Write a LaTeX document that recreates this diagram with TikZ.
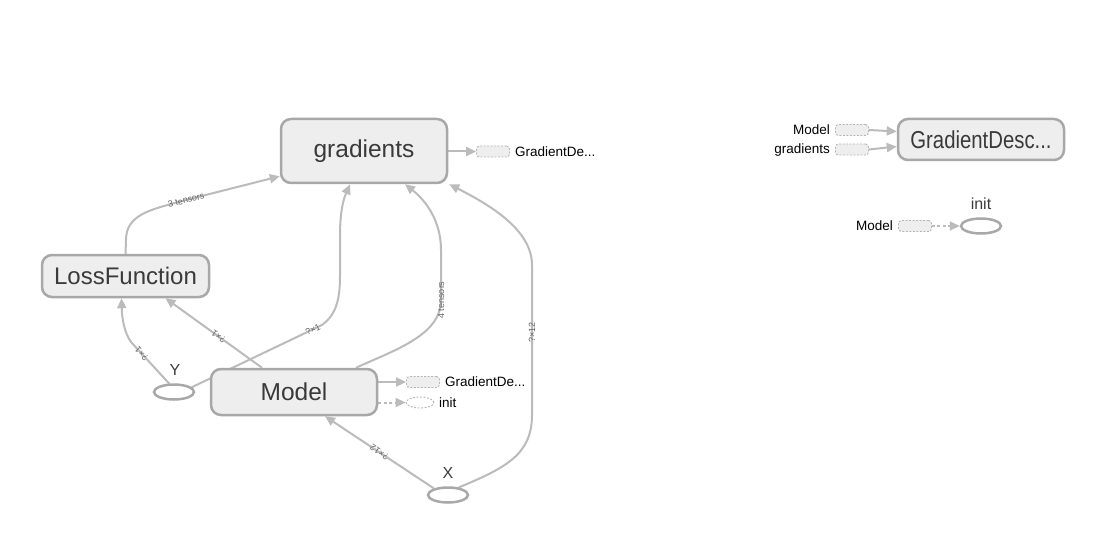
\documentclass[tikz,border=0pt]{standalone}
\usepackage{fontspec}
\setmainfont{Liberation Sans}
\usetikzlibrary{arrows.meta,shapes.geometric}
\definecolor{nodefill}{HTML}{EEEEEE}
\definecolor{nodeborder}{HTML}{A8A8A8}
\definecolor{edgecol}{HTML}{BBBBBB}
\definecolor{ghostcol}{HTML}{B5B5B5}
\definecolor{txt}{HTML}{3A3A3A}
\definecolor{labcol}{HTML}{666666}
\pgfdeclarelayer{background}
\pgfsetlayers{background,main}
\tikzset{
  op/.style={draw=nodeborder, fill=nodefill, line width=2.5pt, rounded corners=10pt,
    text=txt, font=\fontsize{24.5}{28}\selectfont, inner sep=0pt},
  ell/.style={ellipse, draw=nodeborder, line width=2.5pt, minimum width=40pt,
    minimum height=15pt, inner sep=0pt},
  ghost/.style={draw=ghostcol, fill=nodefill, rounded corners=3pt, line width=0.9pt,
    dash pattern=on 2pt off 1.5pt, minimum width=33pt, minimum height=11pt, inner sep=0pt},
  ghostell/.style={ellipse, draw=ghostcol, line width=0.9pt, dash pattern=on 2pt off 1.5pt,
    minimum width=28pt, minimum height=11pt, inner sep=0pt},
  small/.style={font=\fontsize{13.5}{15}\selectfont, text=black, inner sep=0pt},
  namelab/.style={font=\fontsize{16}{18}\selectfont, text=txt, inner sep=0pt},
  edge/.style={draw=edgecol, line width=2pt, -{Triangle[length=10pt,width=9pt]}},
  dotedge/.style={draw=edgecol, line width=2pt, dash pattern=on 3pt off 2.5pt,
    -{Triangle[length=10pt,width=9pt]}},
  elab/.style={font=\fontsize{9}{10}\selectfont, text=labcol, sloped, allow upside down, inner sep=0.5pt}
}
\begin{document}
\begin{tikzpicture}[x=1pt,y=-1pt]
\useasboundingbox (0,0) rectangle (1107,537);
% main nodes
\node[op, minimum width=166pt, minimum height=64pt] (grad) at (364,151) {gradients};
\node[op, minimum width=167pt, minimum height=42pt, font=\fontsize{24}{28}\selectfont] (loss) at (125.5,276) {LossFunction};
\node[op, minimum width=166pt, minimum height=46pt] (model) at (294,392) {Model};
\node[op, minimum width=166pt, minimum height=41pt] (gd) at (981,139.5) {\scalebox{0.83}[1]{GradientDesc...}};
\node[ell] (Y) at (174,392) {};
\node[ell] (X) at (448,495) {};
\node[ell] (init) at (981,226) {};
\node[namelab] (ylab) at (175,370) {Y};
\node[namelab] (xlab) at (448,473) {X};
\node[namelab] (initlab) at (981,204) {init};
% ghost nodes
\node[ghost] (g1) at (493,151.5) {};
\node[small, anchor=west] (g1l) at (515,151.5) {GradientDe...};
\node[ghost] (g2) at (423,382) {};
\node[small, anchor=west] (g2l) at (445,382) {GradientDe...};
\node[ghostell] (g3) at (420,402.5) {};
\node[small, anchor=west] (g3l) at (439,402.5) {init};
\node[ghost] (g4) at (852,130) {};
\node[small, anchor=east] (g4l) at (830,130) {Model};
\node[ghost] (g5) at (852,149.5) {};
\node[small, anchor=east] (g5l) at (830,150) {gradients};
\node[ghost] (g6) at (915,226) {};
\node[small, anchor=east] (g6l) at (893,226) {Model};
\begin{pgfonlayer}{background}
% LossFunction -> gradients
\draw[edge] (loss.north) -- (126,240) .. controls (126,215) and (150,210) .. (178,202)
  -- node[elab, pos=0.08] {3 tensors} ([yshift=8pt]grad.south west);
% Y -> LossFunction
\draw[edge] (Y.120) -- node[elab, pos=0.72] {?×1} (131,342)
  .. controls (124,332) and (122,318) .. ([xshift=-4pt]loss.south);
% Model -> LossFunction
\draw[edge] ([xshift=-32pt]model.north) -- node[elab, pos=0.45] {?×1} ([xshift=40pt]loss.south);
% Y -> gradients
\draw[edge] (Y.15) -- node[elab, pos=0.93] {?×1} (322,325)
  .. controls (337,314) and (340,298) .. (340,275) -- (340,235)
  .. controls (340,210) and (344,198) .. ([xshift=-14pt]grad.south);
% Model -> gradients
\draw[edge] ([xshift=62pt]model.north) .. controls (395,350) and (441,335) .. (441,300)
  -- node[elab, pos=0.0] {4 tensors} (441,250)
  .. controls (441,220) and (425,200) .. ([xshift=41pt]grad.south);
% X -> gradients
\draw[edge] (X.35) .. controls (505,468) and (532,455) .. (532,415)
  -- node[elab, pos=0.55] {?×12} (532,265)
  .. controls (532,230) and (490,205) .. ([xshift=1pt]grad.south east);
% X -> Model
\draw[edge] (X.155) -- node[elab, pos=0.5] {?×12} ([xshift=31pt]model.south);
% short edges
\draw[edge] (grad.east |- g1) -- (g1.west);
\draw[edge] (model.east |- g2) -- (g2.west);
\draw[dotedge] (model.east |- g3) -- (g3.west);
\draw[edge] (g4.east) -- ([yshift=8pt]gd.west);
\draw[edge] (g5.east) -- ([yshift=-7pt]gd.west);
\draw[dotedge] (g6.east) -- (init.west);
\end{pgfonlayer}
\end{tikzpicture}
\end{document}
